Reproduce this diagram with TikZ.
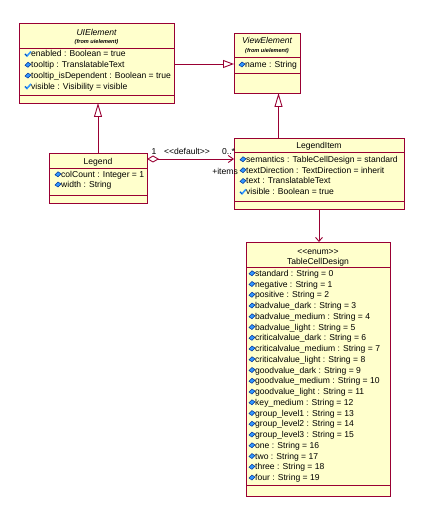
\documentclass[tikz,border=0pt]{standalone}
\usepackage{fontspec}
\setmainfont{Liberation Sans}
\usetikzlibrary{arrows.meta}
\definecolor{umlred}{RGB}{153,0,51}
\definecolor{umlfill}{RGB}{255,255,204}
\definecolor{iconfill}{RGB}{51,153,255}
\definecolor{iconline}{RGB}{0,51,153}
\newcommand\lsq{<\kern0pt<}
\newcommand\rsq{>\kern0pt>}
\begin{document}
\begin{tikzpicture}[x=1bp,y=-1bp,
  box/.style={draw=umlred, fill=umlfill, line width=0.9bp, inner sep=0, outer sep=0, anchor=north west, rectangle},
  sepline/.style={draw=umlred, line width=0.9bp},
  txt/.style={inner sep=0, anchor=base west, font=\fontsize{8.6}{10}\selectfont},
  ctxt/.style={inner sep=0, anchor=base, font=\fontsize{8.6}{10}\selectfont},
  ttl/.style={inner sep=0, anchor=base, font=\fontsize{8.6}{10}\selectfont\itshape},
  stereo/.style={inner sep=0, anchor=base, font=\fontsize{5.6}{6}\selectfont\bfseries\itshape},
  genv/.style={sepline, -{Triangle[open, length=14bp, width=8bp, fill=white]}},
  genh/.style={sepline, -{Triangle[open, length=11bp, width=8bp, fill=white]}},
  assoc/.style={sepline, {Diamond[open, length=12bp, width=7bp, fill=white]}-{Straight Barb[length=5bp, width=7bp]}},
  depend/.style={sepline, -{Straight Barb[length=4bp, width=7bp]}},
  attr/.pic={\filldraw[fill=iconfill, draw=iconline, line width=0.5bp] (-3,0.5) -- (0,-2.5) -- (3,-0.5) -- (0,2.5) -- cycle;},
  attrpub/.pic={\draw[iconfill, line width=1.6bp] (-3,0) -- (-1,2) -- (3,-2.5); \draw[iconline, line width=0.4bp] (-3,0) -- (-1,2);}
]
\useasboundingbox (0,0) rectangle (424,521);

% ---------- UIElement ----------
\node[box, minimum width=155bp, minimum height=80bp] (ui) at (19,23) {};
\draw[sepline] (19,48) -- (174,48);
\draw[sepline] (19,95) -- (174,95);
\node[ttl] (uit) at (96.5,36) {UIElement};
\node[stereo] (uis) at (96.5,44) {(from uielement)};
\pic at (28,54) {attrpub};
\node[txt] (ui1) at (31,57) {enabled : Boolean = true};
\pic at (28,64.8) {attr};
\node[txt] (ui2) at (31,67.8) {tooltip : TranslatableText};
\pic at (28,75.6) {attr};
\node[txt] (ui3) at (31,78.6) {tooltip\_isDependent : Boolean = true};
\pic at (28,86.4) {attrpub};
\node[txt] (ui4) at (31,89.4) {visible : Visibility = visible};

% ---------- ViewElement ----------
\node[box, minimum width=66bp, minimum height=60bp] (ve) at (234,33) {};
\draw[sepline] (234,57) -- (300,57);
\draw[sepline] (234,73) -- (300,73);
\node[ttl] (vet) at (267,44) {ViewElement};
\node[stereo] (ves) at (267,53) {(from uielement)};
\pic at (242,64.5) {attr};
\node[txt] (ve1) at (245,67.5) {name : String};

% ---------- Legend ----------
\node[box, minimum width=98bp, minimum height=50bp] (legend) at (49,153) {};
\draw[sepline] (49,168) -- (147,168);
\draw[sepline] (49,195) -- (147,195);
\node[ctxt] (lgt) at (98,165) {Legend};
\pic at (58,174.3) {attr};
\node[txt] (lg1) at (61,177.3) {colCount : Integer = 1};
\pic at (58,184.5) {attr};
\node[txt] (lg2) at (61,187.5) {width : String};

% ---------- LegendItem ----------
\node[box, minimum width=170bp, minimum height=71bp] (li) at (234,138) {};
\draw[sepline] (234,152) -- (404,152);
\draw[sepline] (234,201) -- (404,201);
\node[ctxt] (lit) at (319,148.7) {LegendItem};
\pic at (243,159.3) {attr};
\node[txt] (li1) at (246,162.3) {semantics : TableCellDesign = standard};
\pic at (243,170.2) {attr};
\node[txt] (li2) at (246,173.2) {textDirection : TextDirection = inherit};
\pic at (243,181) {attr};
\node[txt] (li3) at (246,184) {text : TranslatableText};
\pic at (243,191.8) {attrpub};
\node[txt] (li4) at (246,194.8) {visible : Boolean = true};

% ---------- TableCellDesign ----------
\node[box, minimum width=144bp, minimum height=254bp] (tcd) at (246,242) {};
\draw[sepline] (246,267) -- (390,267);
\draw[sepline] (246,485) -- (390,485);
\node[ctxt] (tce) at (318,254) {\lsq enum\rsq};
\node[ctxt] (tct) at (318,264) {TableCellDesign};
\foreach \t [count=\i from 0] in {standard, negative, positive, badvalue\_dark, badvalue\_medium, badvalue\_light, criticalvalue\_dark, criticalvalue\_medium, criticalvalue\_light, goodvalue\_dark, goodvalue\_medium, goodvalue\_light, key\_medium, group\_level1, group\_level2, group\_level3, one, two, three, four} {
  \pic at (252,{273.3+10.75*\i}) {attr};
  \node[txt] (tcd\i) at (255,{276.3+10.75*\i}) {\t\ : String = \i};
}

% ---------- connectors ----------
\coordinate (yA) at (0,64);
\draw[genh] (ui.east |- yA) -- (ve.west |- yA);
\draw[genv] (legend.north) -- (legend.north |- ui.south);
\draw[genv] ([xshift=44.5bp]li.north west) -- ([xshift=44.5bp]ve.south west);
\coordinate (yB) at (0,159);
\draw[assoc] (legend.east |- yB) -- (li.west |- yB);
\draw[depend] (li.south) -- (li.south |- tcd.north);

\node[ctxt] (m1) at (154,155) {1};
\node[ctxt] (mdef) at (187,154.5) {\lsq default\rsq};
\node[txt] (mmany) at (222,154.5) {0..*};
\node[inner sep=0, anchor=base east, font=\fontsize{8.6}{10}\selectfont] (mitems) at (238,175) {+items};
\end{tikzpicture}
\end{document}
